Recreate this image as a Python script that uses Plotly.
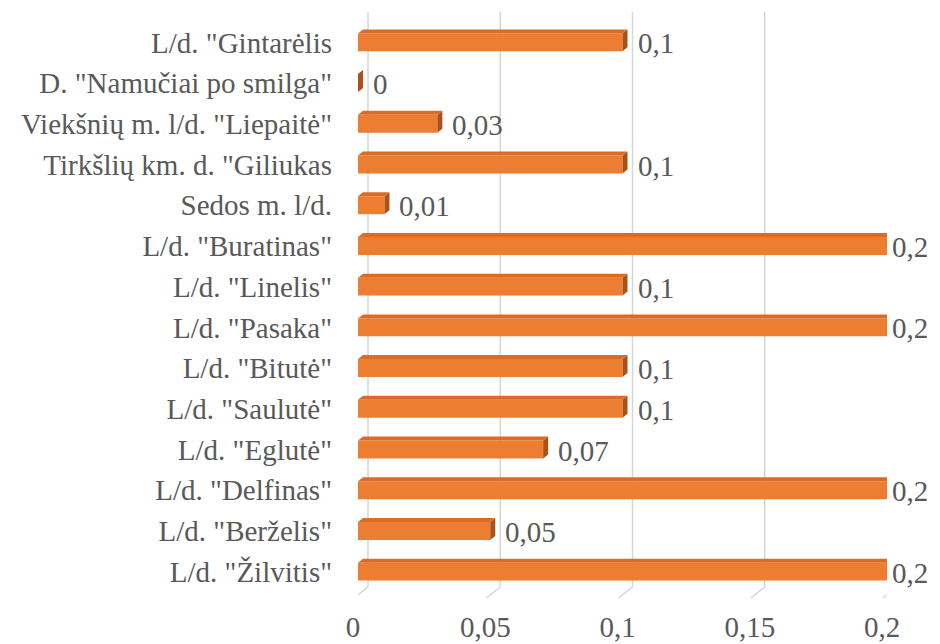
import plotly.graph_objects as go

categories = [
    'L/d. "Gintarėlis',
    'D. "Namučiai po smilga"',
    'Viekšnių m. l/d. "Liepaitė"',
    'Tirkšlių km. d. "Giliukas',
    'Sedos m. l/d.',
    'L/d. "Buratinas"',
    'L/d. "Linelis"',
    'L/d. "Pasaka"',
    'L/d. "Bitutė"',
    'L/d. "Saulutė"',
    'L/d. "Eglutė"',
    'L/d. "Delfinas"',
    'L/d. "Berželis"',
    'L/d. "Žilvitis"',
]
values = [0.1, 0, 0.03, 0.1, 0.01, 0.2, 0.1, 0.2, 0.1, 0.1, 0.07, 0.2, 0.05, 0.2]
tick_vals = [0, 0.05, 0.1, 0.15, 0.2]
tick_text = ["0", "0,05", "0,1", "0,15", "0,2"]

OFF = 8  # page body margin
W, H = 940 - OFF, 644 - OFF
ML, MT = 358 - OFF, 22 - OFF
MR = 940 - 887
MB = 644 - 592
plot_w = W - ML - MR
plot_h = H - MT - MB
xmax = 0.2
n = len(categories)
slot = plot_h / n
bar_w = 0.44
half = bar_w * slot / 2
dx, dy = 5, 4  # bar depth in px
d_data = dx / plot_w * xmax

ORANGE = "#ED7D31"
TOP = "#D96C26"
SIDE = "#A9521C"
GRID = "#D6D6D6"
TXT = "#595959"
FONT = "'Times New Roman', 'Liberation Serif', serif"
FS = 29


def py(pix):
    return (H - MB - (pix - OFF)) / plot_h


fig = go.Figure()
fig.add_trace(go.Bar(
    x=values, y=categories, orientation="h", width=bar_w,
    marker=dict(color=ORANGE, line=dict(width=0)),
    hoverinfo="x+y",
))

shapes = []
for t in tick_vals:
    shapes.append(dict(type="line", xref="x", xsizemode="pixel", xanchor=t,
                       x0=10, x1=10, yref="paper", y0=py(587), y1=py(12),
                       line=dict(color=GRID, width=1.5), layer="below"))
    shapes.append(dict(type="line", xref="x", xsizemode="pixel", xanchor=t,
                       x0=10, x1=-4, yref="paper", y0=py(587), y1=py(598),
                       line=dict(color=GRID, width=1.5), layer="below"))

for c, v in zip(categories, values):
    shapes.append(dict(type="path", xref="x", yref="y",
                       xsizemode="pixel", xanchor=v,
                       ysizemode="pixel", yanchor=c,
                       path=f"M 0,{-half} L 0,{half} L {dx},{half + dy} L {dx},{-half + dy} Z",
                       fillcolor=SIDE, line=dict(width=0)))
    if v > 0:
        shapes.append(dict(type="path", xref="x", yref="y",
                           ysizemode="pixel", yanchor=c,
                           path=f"M 0,{half} L {v},{half} L {v + d_data},{half + dy} L {d_data},{half + dy} Z",
                           fillcolor=TOP, line=dict(width=0)))

annotations = []
for c, v in zip(categories, values):
    label = str(v).replace(".", ",")
    annotations.append(dict(x=v, y=c, xref="x", yref="y", text=label,
                            showarrow=False, xanchor="left",
                            xshift=(3 if v >= xmax else 13), yshift=-1,
                            font=dict(family=FONT, size=FS, color=TXT)))

fig.update_layout(
    width=W, height=H,
    margin=dict(l=ML, r=MR, t=MT, b=MB, pad=0, autoexpand=False),
    paper_bgcolor="white", plot_bgcolor="white",
    showlegend=False,
    shapes=shapes, annotations=annotations,
    font=dict(family=FONT, size=FS, color=TXT),
    xaxis=dict(range=[0, xmax], tickvals=tick_vals, ticktext=tick_text,
               showgrid=False, zeroline=False, showline=False, automargin=False,
               ticks="", ticklabelstandoff=15, ticklabelshift=-5,
               tickfont=dict(family=FONT, size=FS, color=TXT)),
    yaxis=dict(categoryorder="array", categoryarray=categories,
               range=[n - 0.5, -0.5], showgrid=False, zeroline=False, automargin=False,
               showline=False, ticks="", ticklabelstandoff=25,
               tickfont=dict(family=FONT, size=FS, color=TXT)),
)

fig.write_html("out.html")
